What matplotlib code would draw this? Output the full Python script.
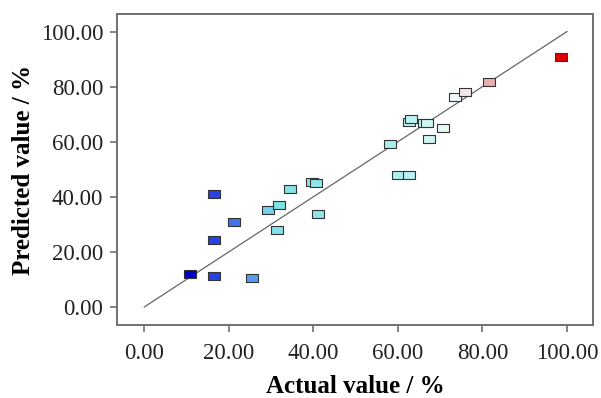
import numpy as np
import matplotlib.pyplot as plt
from matplotlib.colors import LinearSegmentedColormap, Normalize

# actual vs predicted values
actual = [10.9, 16.4, 25.5, 16.6, 21.3, 16.6,
          29.3, 31.8, 31.4, 34.5, 39.7, 40.7, 41.2,
          58.2, 60.1, 62.6, 62.7, 63.2, 66.2, 66.8, 67.3, 70.6,
          73.4, 75.9, 81.6, 98.5]
predicted = [11.9, 11.2, 10.5, 41.1, 30.8, 24.3,
             35.2, 36.9, 27.8, 42.8, 45.5, 45.1, 33.8,
             59.0, 47.8, 47.8, 67.2, 68.4, 66.7, 66.7, 60.9, 64.9,
             76.3, 78.0, 81.7, 90.9]
ticks = [0, 20, 40, 60, 80, 100]
tick_labels = ["0.00", "20.00", "40.00", "60.00", "80.00", "100.00"]

plt.rcParams['font.family'] = ['Liberation Serif', 'DejaVu Serif']

# Design-Expert style colour scale (blue - cyan - white - red)
cmap = LinearSegmentedColormap.from_list("de", [
    (0.0, "#0000c8"), (0.07, "#2a4ae8"), (0.17, "#5aa0ee"),
    (0.22, "#7fe0e6"), (0.55, "#a6f0ee"), (0.72, "#f4fafa"),
    (0.80, "#e8b4b4"), (1.0, "#e00000")])
norm = Normalize(min(actual), max(actual))

fig = plt.figure(figsize=(6.01, 3.98), dpi=100)
ax = fig.add_axes([0.195, 0.183, 0.792, 0.782])

ax.plot([0, 100], [0, 100], color="#666666", lw=0.9, zorder=1)

rect = [(-1, -0.62), (1, -0.62), (1, 0.62), (-1, 0.62), (-1, -0.62)]
for a, p in zip(actual, predicted):
    ax.plot(a, p, marker=rect, ms=8.5, mfc=cmap(norm(a)), mec="#333333",
            mew=0.8, ls="none", zorder=3)

ax.set_xlim(-6.4, 106.2)
ax.set_ylim(-6.6, 106.4)
ax.set_xticks(ticks)
ax.set_xticklabels(tick_labels)
ax.set_yticks(ticks)
ax.set_yticklabels(tick_labels)
ax.tick_params(labelsize=16.5, length=5, width=1.2, direction="out",
               colors="#222222")
ax.tick_params(axis="x", pad=8)
ax.tick_params(axis="y", pad=5)
ax.tick_params(color="#707070")
for s in ax.spines.values():
    s.set_color("#707070")
    s.set_linewidth(1.4)

ax.set_xlabel("Actual value / %", fontsize=18, fontweight="bold", labelpad=8)
ax.set_ylabel("Predicted value / %", fontsize=18, fontweight="bold", labelpad=4)

fig.savefig("out.png", dpi=100)
